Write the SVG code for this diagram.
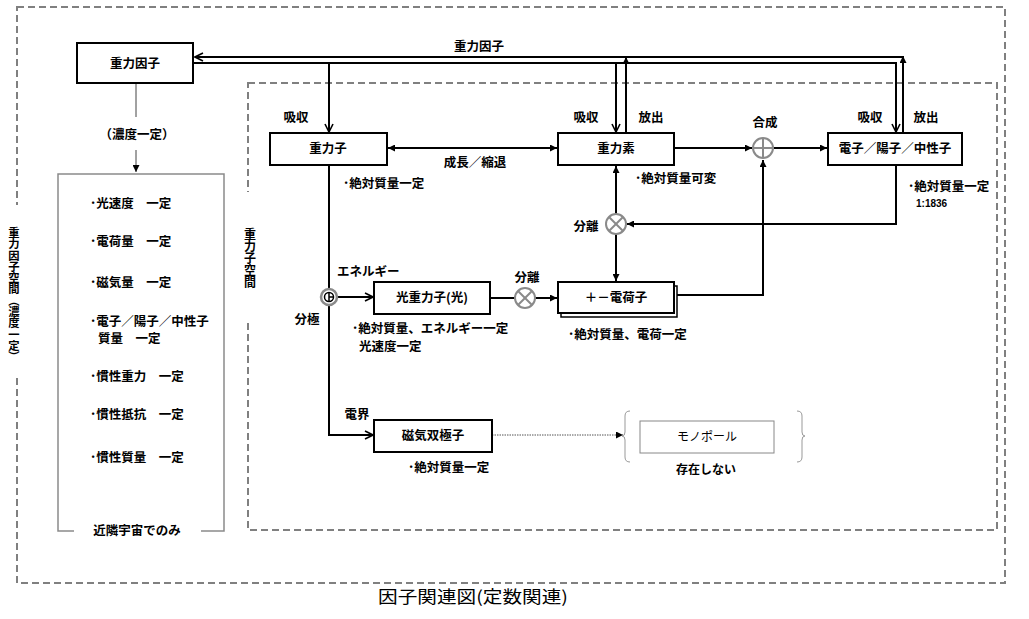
<svg xmlns="http://www.w3.org/2000/svg" width="1029" height="619" viewBox="0 0 1029 619">
<style>
.box{fill:#fff;stroke:#000;stroke-width:2}
.t{font-family:"Noto Sans CJK JP","Noto Sans CJK SC",sans-serif;font-size:12.5px;font-weight:bold;fill:#000}
.c{text-anchor:middle}
.ln{stroke:#000;stroke-width:2;fill:none}
.thin{stroke:#444;stroke-width:1;fill:none}
.dash{stroke:#808080;stroke-width:2;stroke-dasharray:7 4;fill:none}
.sym{stroke:#8a8a8a;stroke-width:2;fill:#fff}
.symln{stroke:#8a8a8a;stroke-width:2}
</style>
<defs>
<marker id="v" viewBox="0 0 10 10" refX="9" refY="5" markerWidth="10" markerHeight="10" markerUnits="userSpaceOnUse" orient="auto"><path d="M1,1 L9,5 L1,9" fill="none" stroke="#000" stroke-width="1.6"/></marker>
<marker id="f" viewBox="0 0 8 8" refX="8" refY="4" markerWidth="7" markerHeight="7" markerUnits="userSpaceOnUse" orient="auto-start-reverse"><path d="M0,0 L8,4 L0,8 z" fill="#000"/></marker>
</defs>
<rect width="1029" height="619" fill="#fff"/>

<!-- regions -->
<g id="regions">
<rect class="dash" x="17" y="7" width="988" height="576"/>
<rect class="dash" x="248" y="83" width="749" height="447"/>
<rect x="8" y="205" width="14" height="172" fill="#fff"/>
<rect x="242" y="192" width="14" height="130" fill="#fff"/>
<text class="t" x="14" y="227" style="writing-mode:vertical-rl;font-size:11.3px">重力因子空間（濃度一定）</text>
<text class="t" x="250" y="228" style="writing-mode:vertical-rl;font-size:12px">重力子空間</text>
</g>

<!-- connectors -->
<g id="connectors">
<line class="ln" x1="903" y1="133" x2="903" y2="56" marker-end="url(#f)"/>
<line class="ln" x1="903" y1="57" x2="195" y2="57" marker-end="url(#v)"/>
<line class="ln" x1="626" y1="133" x2="626" y2="57" marker-end="url(#f)"/>
<path class="ln" d="M193,63 H896 V132" marker-end="url(#v)"/>
<line class="ln" x1="329" y1="63" x2="329" y2="132" marker-end="url(#v)"/>
<line class="ln" x1="616" y1="63" x2="616" y2="132" marker-end="url(#v)"/>
<line class="ln" x1="388" y1="148" x2="557" y2="148" marker-start="url(#f)" marker-end="url(#f)"/>
<line class="ln" x1="674" y1="148" x2="752" y2="148" marker-end="url(#f)"/>
<line class="ln" x1="774" y1="148" x2="827" y2="148" marker-end="url(#f)"/>
<path class="ln" d="M896,165 V224 H627" marker-end="url(#f)"/>
<line class="ln" x1="616" y1="214" x2="616" y2="166" marker-end="url(#f)"/>
<line class="ln" x1="616" y1="234" x2="616" y2="281" marker-end="url(#f)"/>
<path class="ln" d="M677,295 H763 V160" marker-end="url(#f)"/>
<line class="ln" x1="490" y1="298" x2="515" y2="298"/>
<line class="ln" x1="535" y1="298" x2="557" y2="298" marker-end="url(#f)"/>
<line class="ln" x1="329" y1="165" x2="329" y2="289"/>
<path class="ln" d="M329,305 V435 H373" marker-end="url(#v)"/>
<line class="ln" x1="338" y1="297" x2="373" y2="297" marker-end="url(#v)"/>
<line x1="492" y1="435" x2="623" y2="435" stroke="#555" stroke-width="1" stroke-dasharray="1.5 1" marker-end="url(#f)"/>
<line class="thin" x1="136" y1="83" x2="136" y2="117"/>
<line class="thin" x1="136" y1="150" x2="136" y2="172" marker-end="url(#f)"/>
<!-- symbols -->
<g id="sum">
<circle class="sym" cx="763" cy="148" r="10"/>
<line class="symln" x1="753" y1="148" x2="773" y2="148"/>
<line class="symln" x1="763" y1="138" x2="763" y2="158"/>
</g>
<g id="sep1">
<circle class="sym" cx="616" cy="224" r="10"/>
<line class="symln" x1="609" y1="217" x2="623" y2="231"/>
<line class="symln" x1="623" y1="217" x2="609" y2="231"/>
</g>
<g id="sep2">
<circle class="sym" cx="525" cy="298" r="10"/>
<line class="symln" x1="518" y1="291" x2="532" y2="305"/>
<line class="symln" x1="532" y1="291" x2="518" y2="305"/>
</g>
<g id="pol">
<circle cx="329" cy="297" r="8" fill="#fff" stroke="#8a8a8a" stroke-width="2.5"/>
<circle cx="329" cy="297" r="4.5" fill="#fff" stroke="#000" stroke-width="1.5"/>
<line x1="329" y1="292" x2="329" y2="302" stroke="#000" stroke-width="1.5"/>
<line x1="329" y1="297" x2="334" y2="297" stroke="#000" stroke-width="1.5"/>
</g>
</g>

<!-- nodes -->
<g id="n-gf">
<rect class="box" x="77" y="43" width="116" height="40"/>
<text class="t c" x="135" y="68">重力因子</text>
</g>
<g id="n-list">
<path d="M74,531 H58 V174 H224 V531 H201" fill="none" stroke="#8a8a8a" stroke-width="1.5"/>
<text class="t" x="90" y="208">･光速度　一定</text>
<text class="t" x="90" y="246">･電荷量　一定</text>
<text class="t" x="90" y="287">･磁気量　一定</text>
<text class="t" x="90" y="326">･電子／陽子／中性子</text>
<text class="t" x="98" y="343">質量　一定</text>
<text class="t" x="90" y="381">･慣性重力　一定</text>
<text class="t" x="90" y="419">･慣性抵抗　一定</text>
<text class="t" x="90" y="462">･慣性質量　一定</text>
<text class="t c" x="137" y="535">近隣宇宙でのみ</text>
</g>
<g id="n-gs">
<rect class="box" x="270" y="133" width="117" height="32"/>
<text class="t c" x="328" y="153">重力子</text>
</g>
<g id="n-ge">
<rect class="box" x="558" y="133" width="116" height="32"/>
<text class="t c" x="616" y="153">重力素</text>
</g>
<g id="n-epn">
<rect class="box" x="828" y="133" width="134" height="32"/>
<text class="t c" x="895" y="153">電子／陽子／中性子</text>
</g>
<g id="n-light">
<rect class="box" x="374" y="282" width="116" height="32"/>
<text class="t c" x="432" y="302">光重力子(光)</text>
</g>
<g id="n-charge">
<rect x="561" y="286" width="116" height="31" fill="#fff" stroke="#000" stroke-width="1.5"/>
<rect class="box" x="558" y="282" width="116" height="31"/>
<text class="t c" x="616" y="302">＋－電荷子</text>
</g>
<g id="n-mag">
<rect class="box" x="374" y="420" width="118" height="32"/>
<text class="t c" x="433" y="440">磁気双極子</text>
</g>
<g id="n-mono">
<path d="M630,411 Q625,411 625,416 V432 Q625,436 622,436 Q625,436 625,440 V457 Q625,462 630,462" fill="none" stroke="#999" stroke-width="1"/>
<path d="M797,411 Q802,411 802,416 V432 Q802,436 805,436 Q802,436 802,440 V457 Q802,462 797,462" fill="none" stroke="#999" stroke-width="1"/>
<rect x="640" y="421" width="134" height="32" fill="#fff" stroke="#888" stroke-width="1"/>
<text class="t c" x="707" y="441" style="font-weight:normal;font-size:12px">モノポール</text>
<text class="t c" x="706" y="474" style="font-size:12px">存在しない</text>
</g>

<!-- labels -->
<g id="labels">
<text class="t c" x="479" y="51">重力因子</text>
<text class="t c" x="137" y="139">（濃度一定）</text>
<text class="t c" x="296" y="122">吸収</text>
<text class="t c" x="586" y="122">吸収</text>
<text class="t c" x="651" y="122">放出</text>
<text class="t c" x="765" y="127">合成</text>
<text class="t c" x="870" y="122">吸収</text>
<text class="t c" x="926" y="122">放出</text>
<text class="t" x="343" y="188">･絶対質量一定</text>
<text class="t c" x="475" y="167">成長／縮退</text>
<text class="t" x="635" y="183">･絶対質量可変</text>
<text class="t" x="908" y="191">･絶対質量一定</text>
<text x="916" y="207" font-family="Liberation Sans, sans-serif" font-size="10" font-weight="bold">1:1836</text>
<text class="t c" x="586" y="231">分離</text>
<text class="t c" x="527" y="282">分離</text>
<text class="t" x="337" y="276">エネルギー</text>
<text class="t c" x="307" y="324">分極</text>
<text class="t" x="352" y="333">･絶対質量、エネルギー一定</text>
<text class="t" x="359" y="351">光速度一定</text>
<text class="t" x="568" y="339">･絶対質量、電荷一定</text>
<text class="t c" x="357" y="419">電界</text>
<text class="t" x="408" y="472">･絶対質量一定</text>
<text x="473" y="603" text-anchor="middle" font-family="Noto Sans CJK JP, sans-serif" font-size="16.5" textLength="190" lengthAdjust="spacingAndGlyphs">因子関連図(定数関連)</text>
</g>
</svg>
